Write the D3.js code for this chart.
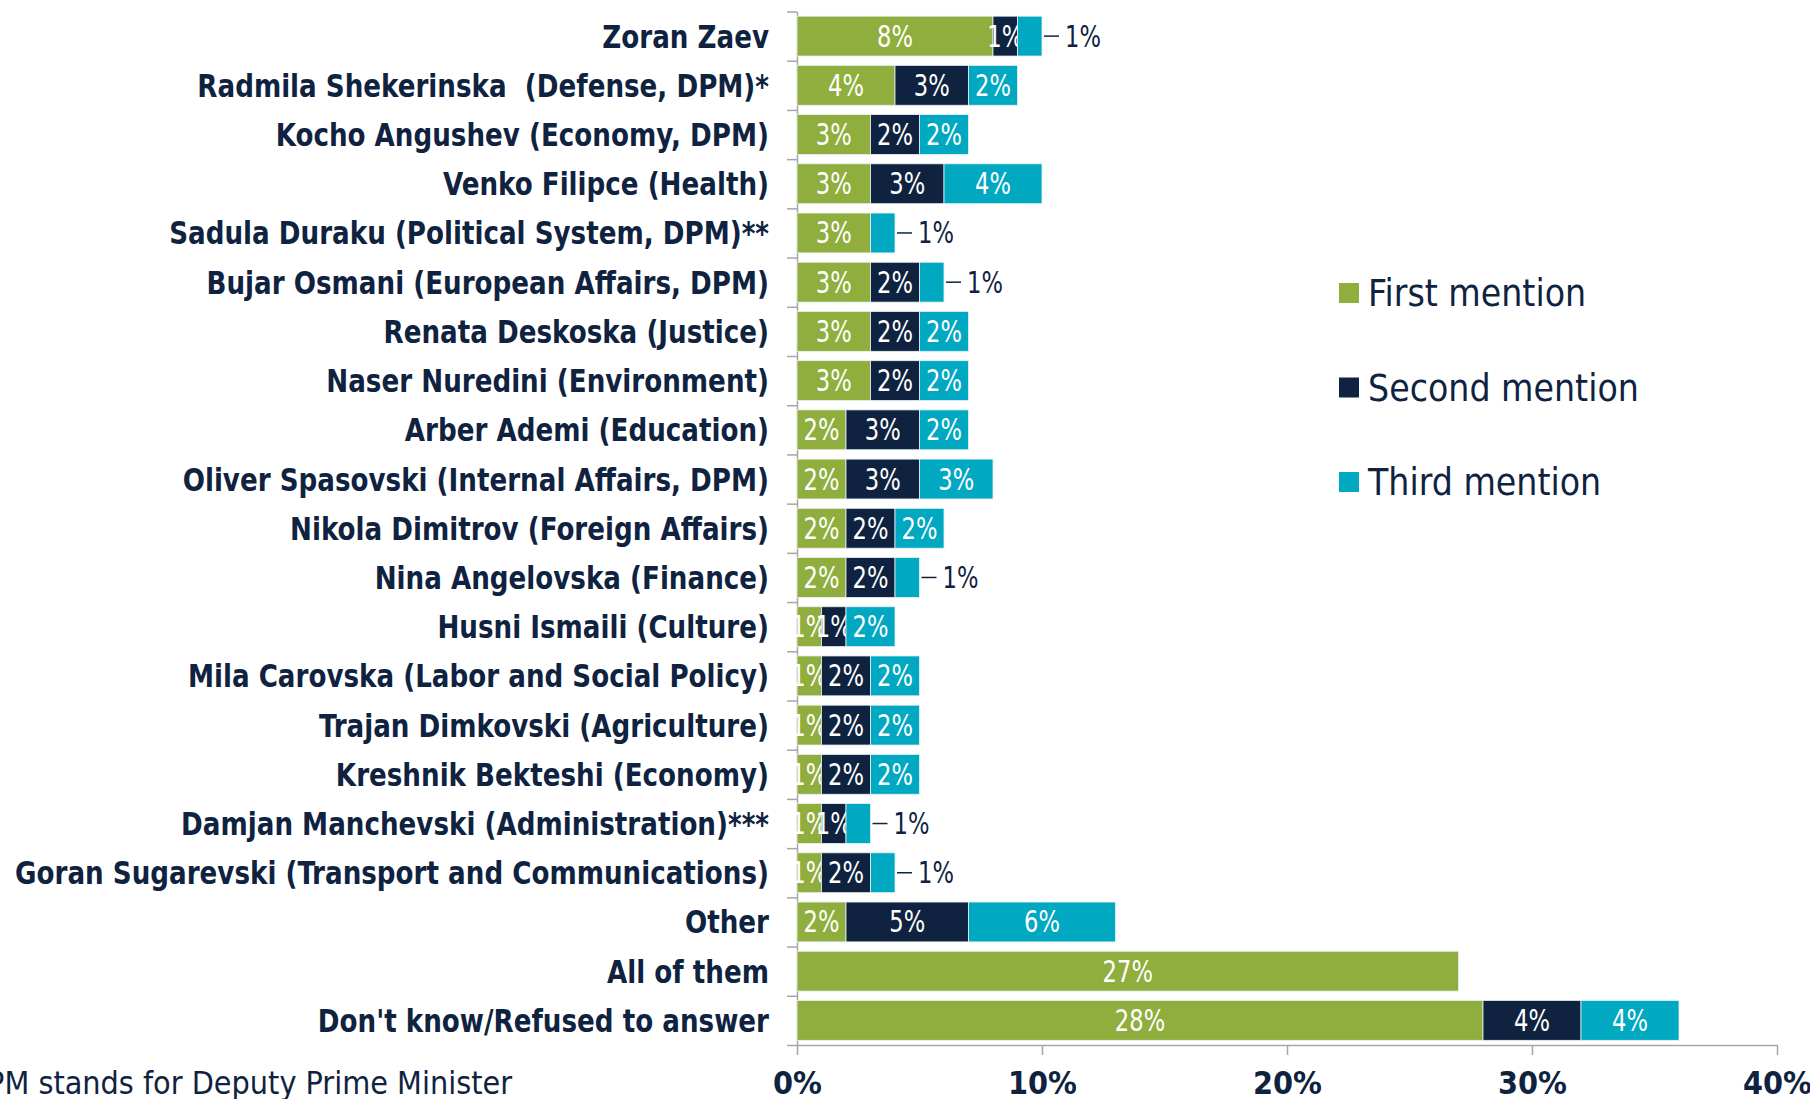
<!DOCTYPE html>
<html>
<head>
<meta charset="utf-8">
<script src="https://cdn.jsdelivr.net/npm/d3@7"></script>
<style>
  body { margin: 0; background: #fff; }
  svg { display: block; }
  text { white-space: pre; }
</style>
</head>
<body>
<script>
// chart values
const categories = [
  'Zoran Zaev',
  'Radmila Shekerinska  (Defense, DPM)*',
  'Kocho Angushev (Economy, DPM)',
  'Venko Filipce (Health)',
  'Sadula Duraku (Political System, DPM)**',
  'Bujar Osmani (European Affairs, DPM)',
  'Renata Deskoska (Justice)',
  'Naser Nuredini (Environment)',
  'Arber Ademi (Education)',
  'Oliver Spasovski (Internal Affairs, DPM)',
  'Nikola Dimitrov (Foreign Affairs)',
  'Nina Angelovska (Finance)',
  'Husni Ismaili (Culture)',
  'Mila Carovska (Labor and Social Policy)',
  'Trajan Dimkovski (Agriculture)',
  'Kreshnik Bekteshi (Economy)',
  'Damjan Manchevski (Administration)***',
  'Goran Sugarevski (Transport and Communications)',
  'Other',
  'All of them',
  "Don't know/Refused to answer"
];
const firstMention  = [8, 4, 3, 3, 3, 3, 3, 3, 2, 2, 2, 2, 1, 1, 1, 1, 1, 1, 2, 27, 28];
const secondMention = [1, 3, 2, 3, 0, 2, 2, 2, 3, 3, 2, 2, 1, 2, 2, 2, 1, 2, 5, 0, 4];
const thirdMention  = [1, 2, 2, 4, 1, 1, 2, 2, 2, 3, 2, 1, 2, 2, 2, 2, 1, 1, 6, 0, 4];
const seriesNames = ['First mention', 'Second mention', 'Third mention'];
const xTicks = [0, 10, 20, 30, 40];
const footnote = 'DPM stands for Deputy Prime Minister';

// sizes
const w = 1810;
const h = 1099;
const colors = ['#8fae3e', '#0f2340', '#00a8c2'];
const ink = '#0f2341';
const font = "'Liberation Sans Narrow', 'DejaVu Sans Condensed', sans-serif";
const squeeze = 0.84; // narrower value labels

const svg = d3.select('body').append('svg')
  .attr('width', w)
  .attr('height', h)
  .style('font-family', font);

const x = d3.scaleLinear().domain([0, 40]).range([797, 1777]);
const y = d3.scaleBand().domain(categories).range([11.5, 1045])
  .paddingInner(0.19).paddingOuter(0.095);
const yEdge = d3.scaleLinear().domain([0, categories.length]).range([11.5, 1045]);

// stack the three series
const rows = categories.map((c, i) => ({
  cat: c, first: firstMention[i], second: secondMention[i], third: thirdMention[i]
}));
const keys = ['first', 'second', 'third'];
const stacked = d3.stack().keys(keys)(rows);

// axes
const xAxis = svg.append('g')
  .attr('transform', `translate(0,${yEdge(categories.length)})`)
  .call(d3.axisBottom(x).tickValues(xTicks).tickFormat(d => d + '%')
    .tickSize(10).tickPadding(16).tickSizeOuter(0));
xAxis.select('.domain').attr('stroke', '#a6a6a6').attr('stroke-width', 1.5);
xAxis.selectAll('.tick line').attr('stroke', '#a6a6a6').attr('stroke-width', 1.5);
xAxis.selectAll('.tick text')
  .attr('fill', ink).style('font-size', '32px').style('font-weight', 'bold')
  .style('font-family', font);

const yAxis = svg.append('g')
  .attr('transform', `translate(${x(0)},0)`)
  .call(d3.axisLeft(yEdge).tickValues(d3.range(categories.length + 1))
    .tickFormat('').tickSize(10).tickSizeOuter(0));
yAxis.select('.domain').attr('stroke', '#a6a6a6').attr('stroke-width', 1.5);
yAxis.selectAll('.tick line').attr('stroke', '#a6a6a6').attr('stroke-width', 1.5);

// category labels, squeezed so the longest one fits like the original
const yLabels = svg.append('g')
  .attr('transform', `translate(${x(0) - 28},0)`)
  .call(d3.axisLeft(y).tickSize(0).tickPadding(0));
yLabels.select('.domain').remove();
const catText = yLabels.selectAll('.tick text')
  .attr('x', 0)
  .attr('fill', ink).attr('dy', '0.36em')
  .style('font-size', '32px').style('font-weight', 'bold')
  .style('font-family', font);
const widest = d3.max(catText.nodes(), n => n.getComputedTextLength());
const k = Math.min(1, 754 / widest);
catText.attr('transform', `scale(${k},1)`);

// bars
const layers = svg.selectAll('g.layer')
  .data(stacked)
  .enter().append('g')
  .attr('class', 'layer')
  .attr('fill', (d, i) => colors[i]);

layers.selectAll('rect')
  .data(d => d.filter(s => s[1] - s[0] > 0))
  .enter().append('rect')
  .attr('x', d => x(d[0]))
  .attr('y', d => y(d.data.cat))
  .attr('width', d => x(d[1]) - x(d[0]))
  .attr('height', y.bandwidth())
  .attr('stroke', '#e8f0f4')
  .attr('stroke-width', 0.8);

// value labels
layers.each(function(layer, li) {
  const g = d3.select(this);
  layer.forEach(s => {
    const v = s[1] - s[0];
    if (v <= 0) return;
    const cy = y(s.data.cat) + y.bandwidth() / 2;
    const outside = li === 2 && v === 1;
    if (outside) {
      g.append('line')
        .attr('x1', x(s[1]) + 2).attr('x2', x(s[1]) + 17)
        .attr('y1', cy).attr('y2', cy)
        .attr('stroke', ink).attr('stroke-width', 1.5);
      g.append('text')
        .attr('transform', `translate(${x(s[1]) + 23},${cy}) scale(${squeeze},1)`)
        .attr('dy', '0.35em')
        .attr('fill', ink).style('font-size', '30px')
        .text(v + '%');
    } else {
      g.append('text')
        .attr('transform', `translate(${(x(s[0]) + x(s[1])) / 2},${cy}) scale(${squeeze},1)`)
        .attr('dy', '0.35em')
        .attr('text-anchor', 'middle')
        .attr('fill', '#fff').style('font-size', '30px')
        .text(v + '%');
    }
  });
});

// legend
const legend = svg.append('g').attr('transform', 'translate(1339,283)');
seriesNames.forEach((name, i) => {
  const row = legend.append('g').attr('transform', `translate(0,${i * 94.5})`);
  row.append('rect').attr('width', 20).attr('height', 20).attr('fill', colors[i]);
  row.append('text').attr('x', 29).attr('y', 10).attr('dy', '0.36em')
    .attr('fill', ink).style('font-size', '37px').text(name);
});

// footnote, running off the left edge like the original
svg.append('text')
  .attr('x', 512).attr('y', 1094)
  .attr('text-anchor', 'end')
  .attr('fill', ink).style('font-size', '32px')
  .text(footnote);
</script>
</body>
</html>
